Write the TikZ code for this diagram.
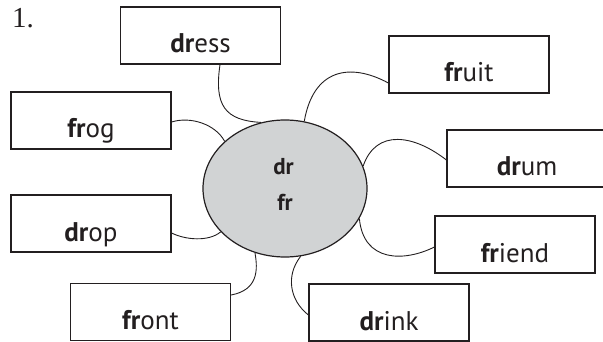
\documentclass[tikz,border=0pt]{standalone}
\usepackage{fontspec}
\setmainfont{PT Sans}
\newfontfamily\numfont{Liberation Serif}
\usetikzlibrary{shapes.geometric,calc}
\definecolor{ink}{RGB}{35,31,32}
\definecolor{blobfill}{RGB}{209,211,212}
\begin{document}
\begin{tikzpicture}[x=1pt,y=-1pt,
  wordbox/.style={draw=ink, line width=1.2pt, minimum width=160pt, minimum height=57pt,
    inner sep=0pt, text height=40pt, text depth=5pt, text=ink,
    font=\fontsize{27}{30}\selectfont},
  link/.style={draw=ink, line width=0.9pt},
  hubtext/.style={anchor=base, inner sep=0pt, text=ink, font=\bfseries\fontsize{23}{28}\selectfont},
]
\useasboundingbox (0,0) rectangle (603,342);
\clip (0,0) rectangle (603,342);

\node[anchor=base west, inner sep=0pt, text=ink, font=\numfont\fontsize{29}{30}\selectfont] (num) at (12,28) {1.};

\node[wordbox] (dress)  at (200.5,35.5) {\textbf{dr}ess};
\node[wordbox] (frog)   at (91,120.5)   {\textbf{fr}og};
\node[wordbox] (fruit)  at (469,64.5)   {\textbf{fr}uit};
\node[wordbox] (drum)   at (527,158.5)  {\textbf{dr}um};
\node[wordbox] (friend) at (515,244.5)  {\textbf{fr}iend};
\node[wordbox] (drink)  at (389,312.5)  {\textbf{dr}ink};
\node[wordbox] (drop)   at (91,223.5)   {\textbf{dr}op};
\node[wordbox] (front)  at (150.5,312)  {\textbf{fr}ont};

\node[ellipse, draw=ink, fill=blobfill, line width=1.2pt, minimum width=164pt,
  minimum height=137pt, inner sep=0pt] (hub) at (285,188.5) {};
\node[hubtext] (hubdr) at (283.5,175) {dr};
\node[hubtext] (hubfr) at (285,211) {fr};

\draw[link] ($(dress.south)+(19.5,0)$) .. controls +(-6,41) and +(-36,-2) .. (hub.110.4);
\draw[link] ($(frog.east)+(0,1.5)$) .. controls +(19,-6) and +(-9,-17) .. (hub.142.7);
\draw[link] ($(fruit.west)+(0,18.5)$) .. controls +(-39,-21) and +(9,-52) .. (hub.74.9);
\draw[link] ($(drum.west)+(0,1.5)$) .. controls +(-32,-25) and +(13,-38) .. (hub.16.3);
\draw[link] ($(friend.west)+(0,2.5)$) .. controls +(-30,15) and +(4,44) .. (hub.-22);
\draw[link] ($(drink.west)+(0,2.5)$) .. controls +(-19,-15) and +(-15,19) .. (hub.-77.5);
\draw[link] ($(front.east)+(0,-17)$) .. controls +(27,-5) and +(3,17) .. (hub.-115);
\draw[link] ($(drop.east)+(0,9.5)$) .. controls +(14,7) and +(-12,10) .. (hub.-146);
\end{tikzpicture}
\end{document}
